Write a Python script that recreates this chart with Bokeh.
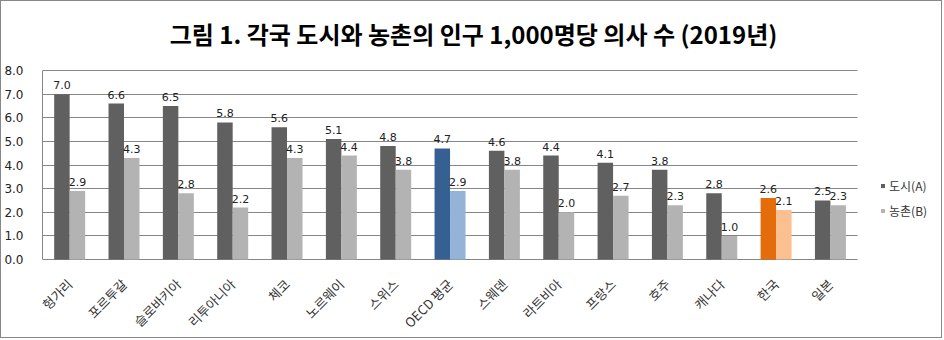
import math
from bokeh.plotting import figure
from bokeh.models import (ColumnDataSource, Range1d, FixedTicker,
                          PrintfTickFormatter, Legend, LegendItem, Label)
from bokeh.transform import dodge
from bokeh.core.properties import value
from bokeh.embed import file_html
from bokeh.resources import INLINE

# ---- data ----
countries = ["헝가리", "포르투갈", "슬로바키아", "리투아니아", "체코", "노르웨이", "스위스",
             "OECD 평균", "스웨덴", "라트비아", "프랑스", "호주", "캐나다", "한국", "일본"]
urban = [7.0, 6.6, 6.5, 5.8, 5.6, 5.1, 4.8, 4.7, 4.6, 4.4, 4.1, 3.8, 2.8, 2.6, 2.5]
rural = [2.9, 4.3, 2.8, 2.2, 4.3, 4.4, 3.8, 2.9, 3.8, 2.0, 2.7, 2.3, 1.0, 2.1, 2.3]
y_ticks = [0, 1, 2, 3, 4, 5, 6, 7, 8]
series_names = ["도시(A)", "농촌(B)"]
title_text = "그림 1. 각국 도시와 농촌의 인구 1,000명당 의사 수 (2019년)"

# ---- styles ----
DARK, LIGHT = "#606060", "#b3b3b3"
GRID = "#868686"
highlight = {"OECD 평균": ("#366092", "#95b3d7"), "한국": ("#e46c0a", "#fac090")}
urban_col = [highlight.get(c, (DARK, LIGHT))[0] for c in countries]
rural_col = [highlight.get(c, (DARK, LIGHT))[1] for c in countries]

n = len(countries)
idx = list(range(n))
src = ColumnDataSource(dict(
    idx=idx, country=countries, urban=urban, rural=rural,
    urban_col=urban_col, rural_col=rural_col,
    urban_lbl=[f"{v:.1f}" for v in urban], rural_lbl=[f"{v:.1f}" for v in rural],
))

# layout (canvas 942x338, plus 1px CSS border); the frame fills the canvas right of the y axis
W_CANVAS, H_CANVAS = 942, 338
FL = 40                            # frame left (canvas px)
PLOT_R, PLOT_T, PLOT_B = 856, 69, 258   # chart area right / top / bottom (canvas px)
px_per_cat = (PLOT_R - FL) / n
px_per_unit = (PLOT_B - PLOT_T) / y_ticks[-1]
x_end = n - 0.5 + (W_CANVAS - PLOT_R) / px_per_cat
y_end = y_ticks[-1] + PLOT_T / px_per_unit
y_start = -(H_CANVAS - PLOT_B) / px_per_unit

p = figure(width=W_CANVAS, height=H_CANVAS, output_backend="svg", toolbar_location=None,
           x_range=Range1d(-0.5, x_end), y_range=Range1d(y_start, y_end),
           min_border_left=FL, min_border_right=0, min_border_top=0, min_border_bottom=0)
p.styles = {"border": "1px solid #888888"}
p.outline_line_color = None
p.background_fill_color = "white"
p.border_fill_color = "white"

W = 0.285
r1 = p.vbar(x=dodge("idx", -W / 2), top="urban", width=W,
            source=src, fill_color="urban_col", line_color=None)
r2 = p.vbar(x=dodge("idx", W / 2), top="rural", width=W,
            source=src, fill_color="rural_col", line_color=None)

for col, lbl, off in (("urban", "urban_lbl", -W / 2), ("rural", "rural_lbl", W / 2)):
    p.text(x=dodge("idx", off), y=col, text=lbl, source=src,
           text_font=value("DejaVu Sans"), text_font_size="11px", text_color="#222222",
           text_align="center", text_baseline="alphabetic", y_offset=-9)

# grid lines (incl. the 0 baseline) limited to the category area
p.xgrid.grid_line_color = None
p.ygrid.ticker = FixedTicker(ticks=y_ticks)
p.ygrid.grid_line_color = GRID
p.ygrid.cross_bounds = (-0.5, n - 0.5)

# y axis
p.yaxis.ticker = FixedTicker(ticks=y_ticks)
p.yaxis.bounds = (y_ticks[0], y_ticks[-1])
p.yaxis.formatter = PrintfTickFormatter(format="%.1f")
p.yaxis.major_label_text_font = "DejaVu Sans"
p.yaxis.major_label_text_font_size = "12px"
p.yaxis.major_label_text_color = "#222222"
p.yaxis.major_tick_line_color = None
p.yaxis.minor_tick_line_color = None
p.yaxis.major_label_standoff = 13
p.yaxis.axis_line_color = GRID

# category labels, rotated 45 degrees under the baseline
p.xaxis.visible = False
p.text(x="idx", y=0, text="country", source=src, angle=math.pi / 4,
       text_align="right", text_baseline="middle", y_offset=22,
       text_font=value("Noto Sans CJK KR"), text_font_size="13px", text_color="#333333")

# legend (inside the wide frame, right of the categories)
legend = Legend(items=[LegendItem(label=series_names[0], renderers=[r1], index=0),
                       LegendItem(label=series_names[1], renderers=[r2], index=0)],
                location=(878 - FL, H_CANVAS - 219), orientation="vertical",
                label_text_font="Noto Sans CJK KR", label_text_font_size="12px",
                label_text_color="#333333", glyph_width=5, glyph_height=5,
                label_standoff=4, spacing=5, padding=0, margin=0,
                border_line_color=None, background_fill_alpha=0, label_height=20,
                label_width=10)
p.add_layout(legend)

# title (inside the frame's empty top band)
p.add_layout(Label(x=471 - FL, y=H_CANVAS - 32, x_units="screen", y_units="screen",
                   text=title_text, text_align="center", text_baseline="middle",
                   text_font="Noto Sans CJK KR", text_font_style="bold",
                   text_font_size="24px", text_color="#000000"))

open("out.html", "w").write(file_html(p, INLINE))
